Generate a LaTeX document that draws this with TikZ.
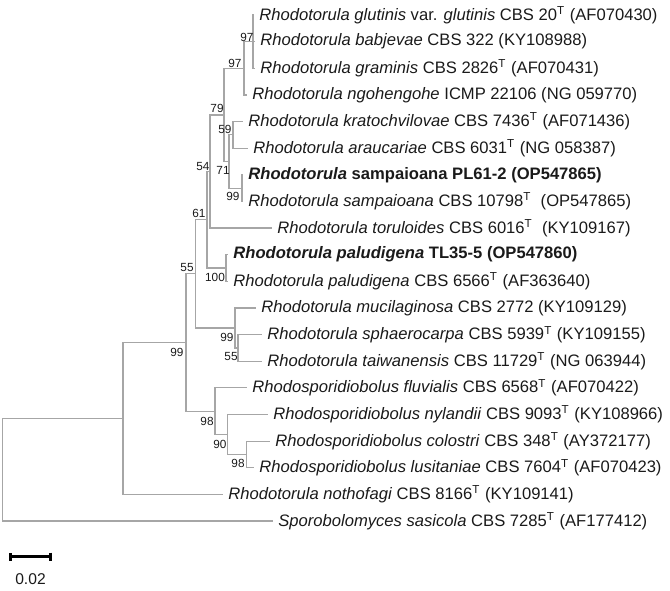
\documentclass[tikz,border=0pt]{standalone}
\usepackage{fontspec}
\setmainfont{Liberation Sans}
\usetikzlibrary{arrows.meta}
\definecolor{tBranch}{HTML}{A6A6A6}
\definecolor{tText}{HTML}{1A1A1A}

\begin{document}
\begin{tikzpicture}[
  x=0.5pt, y=-0.5pt,
  every node/.style={font=\fontsize{8.3}{10}\selectfont, text=tText},
  leaf/.style={anchor=west, inner xsep=2.5pt, inner ysep=0pt},
  boot/.style={font=\fontsize{5.9}{7}\selectfont, inner sep=0pt},
  branch/.style={tBranch, line width=0.6pt},
]
  \useasboundingbox (0,0) rectangle (670,590);

  % Junctions
  \coordinate (jA) at (253,41.6);
  \coordinate (jB) at (244,68.3);
  \coordinate (jC) at (224,114.9);
  \coordinate (jD) at (233,134.8);
  \coordinate (jE) at (229,161.5);
  \coordinate (jF) at (242,188.1);
  \coordinate (jG) at (210,171.5);
  \coordinate (jH) at (207,219.7);
  \coordinate (jI) at (226,268.0);
  \coordinate (jJ) at (195.5,273.8);
  \coordinate (jK) at (235,327.9);
  \coordinate (jL) at (238,347.9);
  \coordinate (jM) at (186,342.5);
  \coordinate (jO) at (215,411.1);
  \coordinate (jP) at (227.7,434.4);
  \coordinate (jQ) at (246.7,454.4);
  \coordinate (jN) at (123,418.4);
  \coordinate (root) at (2.7,469.7);

  % Taxa
  \node[leaf] (glut) at (254,15.0) {\textit{Rhodotorula glutinis} var. \textit{glutinis} CBS 20\textsuperscript{T} (AF070430)};
  \node[leaf] (babj) at (255,41.6) {\textit{Rhodotorula babjevae} CBS 322 (KY108988)};
  \node[leaf] (gram) at (255,68.3) {\textit{Rhodotorula graminis} CBS 2826\textsuperscript{T} (AF070431)};
  \node[leaf] (ngoh) at (247,94.9) {\textit{Rhodotorula ngohengohe} ICMP 22106 (NG 059770)};
  \node[leaf] (krat) at (243,121.5) {\textit{Rhodotorula kratochvilovae} CBS 7436\textsuperscript{T} (AF071436)};
  \node[leaf] (arau) at (248,148.2) {\textit{Rhodotorula araucariae} CBS 6031\textsuperscript{T} (NG 058387)};
  \node[leaf] (sampPL) at (243,174.8) {\textbf{\textit{Rhodotorula} sampaioana PL61-2 (OP547865)}};
  \node[leaf] (sampCBS) at (243,201.4) {\textit{Rhodotorula sampaioana} CBS 10798\textsuperscript{T}\ \ (OP547865)};
  \node[leaf] (toru) at (272,228.0) {\textit{Rhodotorula toruloides} CBS 6016\textsuperscript{T}\ \ (KY109167)};
  \node[leaf] (paluTL) at (228,254.7) {\textbf{\textit{Rhodotorula paludigena} TL35-5 (OP547860)}};
  \node[leaf] (paluCBS) at (228,281.3) {\textit{Rhodotorula paludigena} CBS 6566\textsuperscript{T} (AF363640)};
  \node[leaf] (muci) at (256,307.9) {\textit{Rhodotorula mucilaginosa} CBS 2772 (KY109129)};
  \node[leaf] (spha) at (262,334.6) {\textit{Rhodotorula sphaerocarpa} CBS 5939\textsuperscript{T} (KY109155)};
  \node[leaf] (taiw) at (262,361.2) {\textit{Rhodotorula taiwanensis} CBS 11729\textsuperscript{T} (NG 063944)};
  \node[leaf] (fluv) at (247,387.8) {\textit{Rhodosporidiobolus fluvialis} CBS 6568\textsuperscript{T} (AF070422)};
  \node[leaf] (nyla) at (268,414.5) {\textit{Rhodosporidiobolus nylandii} CBS 9093\textsuperscript{T} (KY108966)};
  \node[leaf] (colo) at (270,441.1) {\textit{Rhodosporidiobolus colostri} CBS 348\textsuperscript{T} (AY372177)};
  \node[leaf] (lusi) at (254,467.7) {\textit{Rhodosporidiobolus lusitaniae} CBS 7604\textsuperscript{T} (AF070423)};
  \node[leaf] (noth) at (223,494.3) {\textit{Rhodotorula nothofagi} CBS 8166\textsuperscript{T} (KY109141)};
  \node[leaf] (spor) at (273,521.0) {\textit{Sporobolomyces sasicola} CBS 7285\textsuperscript{T} (AF177412)};

  % Branches
  \foreach \p/\c in {jA/glut, jA/babj, jA/gram, jB/jA, jB/ngoh, jC/jB, jC/jE,
                     jE/jD, jE/jF, jD/krat, jD/arau, jF/sampPL, jF/sampCBS,
                     jG/jC, jG/toru, jH/jG, jH/jI, jI/paluTL, jI/paluCBS,
                     jJ/jH, jJ/jK, jK/muci, jK/jL, jL/spha, jL/taiw,
                     jM/jJ, jM/jO, jO/fluv, jO/jP, jP/nyla, jP/jQ, jQ/colo, jQ/lusi,
                     jN/jM, jN/noth, root/jN, root/spor}
    \draw[branch] (\p) |- (\c);

  % Bootstrap values
  \foreach \v/\x/\y [count=\i] in {97/247/37, 97/235/63, 79/217/108, 59/225/129,
                                   71/223/170, 99/233/196, 54/203/166, 61/199/213,
                                   55/187/267, 100/215/277, 99/227/337, 55/231/356,
                                   99/177/352, 98/207/421, 90/220/444, 98/238/463}
    \node[boot] (bs\i) at (\x,\y) {\v};

  % Scale bar
  \coordinate (sbL) at (9.3,556.7);
  \coordinate (sbR) at (51.7,556.7);
  \draw[line width=1.3pt, {Bar[width=4pt]}-{Bar[width=4pt]}] (sbL) -- (sbR);
  \node[font=\fontsize{7.8}{9}\selectfont] (sbLab) at (30.5,579) {0.02};
\end{tikzpicture}
\end{document}
